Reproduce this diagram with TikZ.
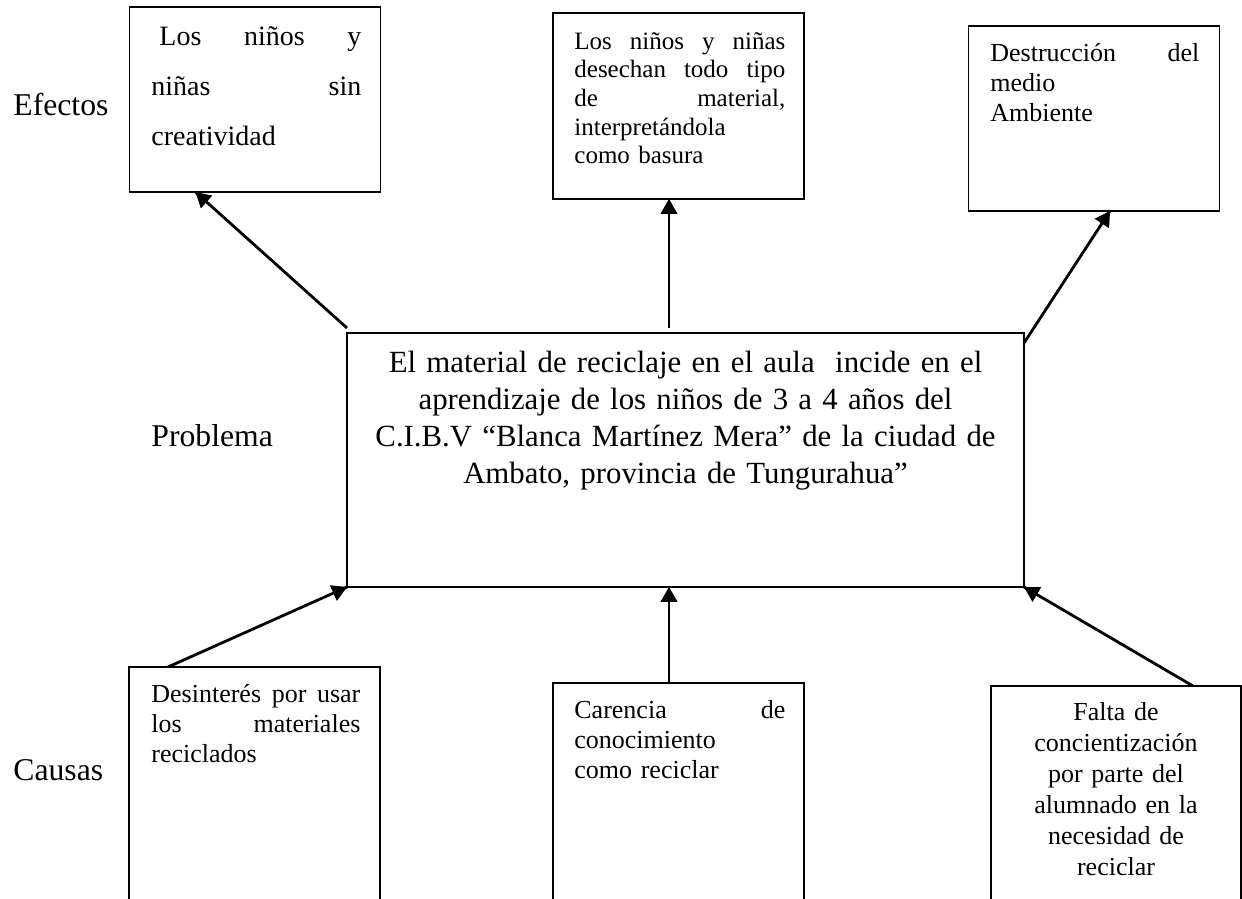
\documentclass[tikz,border=0pt]{standalone}
\usepackage{fontspec}
\setmainfont{Liberation Serif}
\usepackage{tikz}
\usetikzlibrary{arrows}
\usetikzlibrary{decorations.markings}
\tikzset{->/.style = {decoration={markings,
                                  mark=at position 1 with {\arrow[scale=1.1]{triangle 60}}},
                      postaction={decorate}}}
\tikzset{caja/.style = {draw, line width=1.8pt, inner sep=0, outer sep=0, minimum width=251pt}}
\tikzset{texto/.style = {inner sep=0, text width=211pt, align=left, anchor=base west}}
\tikzset{rotulo/.style = {inner sep=0, anchor=base west, font=\fontsize{31.7}{37}\selectfont}}

\begin{document}
\begin{tikzpicture}[x=1pt, y=-1pt, line width=2.8pt]
      \useasboundingbox (0, 0) rectangle (1242, 899);
      \clip (0, 0) rectangle (1242, 899);

      \node [rotulo] (efectos) at (12, 115) {Efectos};
      \node [rotulo] (problema) at (150, 446) {Problema};
      \node [rotulo] (causas) at (12, 780) {Causas};

      % efectos
      \node [caja, minimum height=185pt] (ef1) at (255, 99.5) {};
      \node [caja, minimum height=186pt] (ef2) at (678.5, 106) {};
      \node [caja, minimum height=185pt] (ef3) at (1094, 118.5) {};

      \node [texto, text width=210pt, font=\fontsize{28}{50}\selectfont] (ef1txt) at (150, 46)
            {\hspace{8pt}Los\hfill niños\hfill y\\ niñas\hfill sin\\ creatividad};
      \node [texto, font=\fontsize{25}{28.7}\selectfont] (ef2txt) at (573, 49)
            {Los\hfill niños\hfill y\hfill niñas\\ desechan\hfill todo\hfill tipo\\
             de\hfill material,\\ interpretándola\\ como basura};
      \node [texto, text width=209pt, font=\fontsize{26}{30}\selectfont] (ef3txt) at (989, 62)
            {Destrucción\hfill del\\ medio\\ Ambiente};

      % problema
      \node [caja, minimum width=677pt, minimum height=254pt] (prob) at (685.5, 460) {};
      \node [inner sep=0, text width=660pt, align=center, anchor=base,
             font=\fontsize{30.8}{37}\selectfont] (probtxt) at (685.5, 372)
            {El material de reciclaje en el aula\ \ incide en el\\
             aprendizaje de los niños de 3 a 4 años del\\
             C.I.B.V “Blanca Martínez Mera” de la ciudad de\\
             Ambato, provincia de Tungurahua”};

      % causas
      \node [caja, minimum height=300pt] (ca1) at (254.5, 817) {};
      \node [caja, minimum height=300pt] (ca2) at (678.5, 833) {};
      \node [caja, minimum width=250pt, minimum height=300pt] (ca3) at (1116, 836) {};

      \node [texto, text width=209pt, font=\fontsize{26}{30}\selectfont] (ca1txt) at (150, 702)
            {Desinterés\hfill por\hfill usar\\ los\hfill materiales\\ reciclados};
      \node [texto, font=\fontsize{26}{30}\selectfont] (ca2txt) at (573, 718)
            {Carencia\hfill de\\ conocimiento\\ como reciclar};
      \node [inner sep=0, text width=211pt, align=center, anchor=base,
             font=\fontsize{26}{31}\selectfont] (ca3txt) at (1116, 720)
            {Falta de\\ concientización\\ por parte del\\ alumnado en la\\ necesidad de\\ reciclar};

      \draw [->] ([yshift=5pt]prob.north west) -- ([xshift=66pt]ef1.south west);
      \draw [->] ([xshift=-16.5pt, yshift=5pt]prob.north) -- ([xshift=-9.5pt]ef2.south);
      \draw [->] ([yshift=-10pt]prob.north east) -- ([xshift=16pt]ef3.south);

      \draw [->] ([xshift=39pt]ca1.north west) -- (prob.south west);
      \draw [->] ([xshift=-9.5pt]ca2.north) -- ([xshift=-16.5pt]prob.south);
      \draw [->] ([xshift=77pt]ca3.north) -- (prob.south east);
\end{tikzpicture}
\end{document}
